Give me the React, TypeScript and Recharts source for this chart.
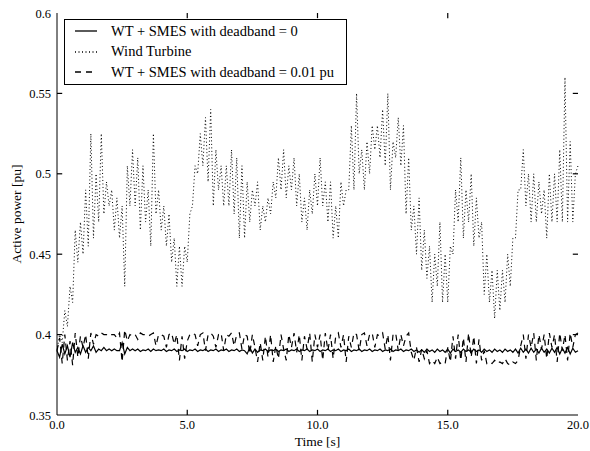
import { LineChart, Line, XAxis, YAxis, Legend, ReferenceLine } from 'recharts';

// Time axis: 0 to 20 s at 0.1 s steps (201 samples)
const timeTicks = [0, 5, 10, 15, 20];
const powerTicks = [0.35, 0.4, 0.45, 0.5, 0.55, 0.6];

// Wind turbine output (fast oscillation around a slow mean)
const windTurbine = [
  0.390, 0.400, 0.395, 0.415, 0.405, 0.430, 0.420, 0.465, 0.445, 0.470,
  0.450, 0.490, 0.455, 0.525, 0.460, 0.500, 0.470, 0.525, 0.475, 0.495,
  0.480, 0.490, 0.465, 0.485, 0.460, 0.480, 0.430, 0.505, 0.480, 0.515,
  0.480, 0.510, 0.465, 0.505, 0.470, 0.490, 0.455, 0.525, 0.475, 0.490,
  0.465, 0.480, 0.455, 0.475, 0.445, 0.460, 0.430, 0.455, 0.430, 0.455,
  0.445, 0.475, 0.480, 0.505, 0.500, 0.525, 0.505, 0.535, 0.495, 0.540,
  0.480, 0.515, 0.490, 0.505, 0.480, 0.505, 0.480, 0.515, 0.475, 0.510,
  0.460, 0.505, 0.460, 0.495, 0.470, 0.490, 0.480, 0.495, 0.465, 0.480,
  0.470, 0.485, 0.475, 0.495, 0.485, 0.510, 0.490, 0.515, 0.485, 0.505,
  0.490, 0.510, 0.480, 0.500, 0.470, 0.485, 0.465, 0.490, 0.475, 0.500,
  0.480, 0.510, 0.480, 0.495, 0.470, 0.495, 0.460, 0.480, 0.460, 0.495,
  0.480, 0.490, 0.490, 0.530, 0.490, 0.550, 0.500, 0.515, 0.490, 0.520,
  0.500, 0.530, 0.515, 0.530, 0.510, 0.540, 0.505, 0.550, 0.490, 0.520,
  0.510, 0.535, 0.505, 0.530, 0.475, 0.510, 0.465, 0.480, 0.450, 0.485,
  0.440, 0.465, 0.435, 0.455, 0.420, 0.450, 0.430, 0.470, 0.420, 0.450,
  0.420, 0.455, 0.450, 0.490, 0.470, 0.510, 0.460, 0.490, 0.470, 0.500,
  0.455, 0.485, 0.460, 0.470, 0.425, 0.450, 0.420, 0.440, 0.410, 0.440,
  0.415, 0.440, 0.420, 0.450, 0.430, 0.460, 0.460, 0.490, 0.490, 0.515,
  0.480, 0.500, 0.470, 0.500, 0.470, 0.495, 0.475, 0.490, 0.460, 0.500,
  0.470, 0.500, 0.470, 0.515, 0.470, 0.560, 0.470, 0.520, 0.470, 0.500,
  0.505,
];

// WT + SMES, deadband = 0
const smesNoDeadband = [
  0.390, 0.386, 0.394, 0.388, 0.393, 0.386, 0.395, 0.389, 0.392, 0.388,
  0.393, 0.389, 0.392, 0.390, 0.393, 0.389, 0.391, 0.390, 0.392, 0.390,
  0.391, 0.390, 0.391, 0.390, 0.390, 0.395, 0.388, 0.392, 0.390, 0.391,
  0.390, 0.391, 0.3895, 0.3905, 0.390, 0.391, 0.3895, 0.391, 0.390, 0.3905,
  0.390, 0.391, 0.3895, 0.3905, 0.390, 0.391, 0.3895, 0.3905, 0.390, 0.391,
  0.3895, 0.3905, 0.390, 0.391, 0.3895, 0.3905, 0.390, 0.391, 0.3895, 0.3905,
  0.390, 0.391, 0.3895, 0.3905, 0.390, 0.391, 0.3895, 0.3905, 0.390, 0.391,
  0.3895, 0.3905, 0.390, 0.388, 0.392, 0.3885, 0.391, 0.389, 0.3905, 0.390,
  0.391, 0.3895, 0.3905, 0.390, 0.391, 0.3895, 0.3905, 0.390, 0.391, 0.3895,
  0.3905, 0.390, 0.391, 0.3895, 0.3905, 0.390, 0.391, 0.3895, 0.3905, 0.390,
  0.391, 0.3895, 0.3905, 0.390, 0.391, 0.3895, 0.3905, 0.390, 0.391, 0.3895,
  0.3905, 0.390, 0.391, 0.3895, 0.3905, 0.390, 0.391, 0.3895, 0.3905, 0.390,
  0.391, 0.3895, 0.3905, 0.390, 0.391, 0.3895, 0.3905, 0.390, 0.391, 0.3895,
  0.3905, 0.390, 0.391, 0.3895, 0.3905, 0.390, 0.391, 0.3895, 0.3905, 0.389,
  0.3905, 0.389, 0.391, 0.3895, 0.3905, 0.389, 0.391, 0.3895, 0.3905, 0.389,
  0.391, 0.3885, 0.391, 0.3895, 0.3905, 0.389, 0.391, 0.3895, 0.3905, 0.389,
  0.391, 0.3895, 0.3905, 0.389, 0.391, 0.3895, 0.3905, 0.389, 0.391, 0.3895,
  0.3905, 0.389, 0.391, 0.3895, 0.3905, 0.389, 0.391, 0.3885, 0.3915, 0.389,
  0.391, 0.3885, 0.3915, 0.389, 0.391, 0.3885, 0.3915, 0.389, 0.391, 0.3885,
  0.3915, 0.389, 0.392, 0.388, 0.3915, 0.3885, 0.392, 0.388, 0.3915, 0.389,
  0.390,
];

// WT + SMES, deadband = 0.01 pu
const smesDeadband = [
  0.390, 0.398, 0.382, 0.400, 0.384, 0.396, 0.381, 0.401, 0.386, 0.399,
  0.392, 0.400, 0.385, 0.401, 0.394, 0.400, 0.399, 0.401, 0.400, 0.400,
  0.399, 0.400, 0.400, 0.398, 0.401, 0.383, 0.403, 0.396, 0.400, 0.399,
  0.400, 0.397, 0.401, 0.400, 0.400, 0.399, 0.400, 0.401, 0.393, 0.400,
  0.400, 0.399, 0.392, 0.400, 0.401, 0.394, 0.400, 0.384, 0.399, 0.385,
  0.396, 0.400, 0.401, 0.400, 0.393, 0.400, 0.401, 0.390, 0.400, 0.401,
  0.399, 0.392, 0.400, 0.401, 0.390, 0.400, 0.399, 0.401, 0.393, 0.400,
  0.401, 0.391, 0.400, 0.399, 0.388, 0.400, 0.392, 0.383, 0.395, 0.384,
  0.399, 0.386, 0.400, 0.383, 0.393, 0.385, 0.400, 0.391, 0.384, 0.400,
  0.392, 0.401, 0.389, 0.400, 0.384, 0.399, 0.391, 0.401, 0.383, 0.400,
  0.392, 0.400, 0.384, 0.401, 0.390, 0.400, 0.385, 0.399, 0.401, 0.392,
  0.400, 0.383, 0.399, 0.392, 0.401, 0.400, 0.390, 0.400, 0.401, 0.393,
  0.400, 0.401, 0.392, 0.400, 0.399, 0.401, 0.391, 0.400, 0.384, 0.400,
  0.401, 0.390, 0.400, 0.393, 0.399, 0.401, 0.389, 0.384, 0.392, 0.383,
  0.391, 0.385, 0.390, 0.382, 0.384, 0.382, 0.386, 0.382, 0.383, 0.382,
  0.392, 0.383, 0.399, 0.385, 0.400, 0.384, 0.398, 0.383, 0.401, 0.386,
  0.399, 0.382, 0.397, 0.384, 0.390, 0.382, 0.383, 0.382, 0.384, 0.382,
  0.383, 0.382, 0.385, 0.382, 0.381, 0.383, 0.382, 0.384, 0.393, 0.400,
  0.385, 0.400, 0.392, 0.401, 0.384, 0.400, 0.391, 0.400, 0.385, 0.401,
  0.392, 0.400, 0.383, 0.401, 0.390, 0.400, 0.384, 0.401, 0.392, 0.400,
  0.401,
];

const data = windTurbine.map((wt, i) => ({
  t: i / 10,
  wt,
  db0: smesNoDeadband[i],
  db1: smesDeadband[i],
}));

const FONT = "'Liberation Serif', 'DejaVu Serif', 'Times New Roman', serif";

// Inward tick length, in data units (about 5 px each way)
const X_MIN = 0, X_MAX = 20, Y_MIN = 0.35, Y_MAX = 0.6;
const TICK_DX = 0.2;
const TICK_DY = 0.0032;

const series = [
  { key: 'db0', name: 'WT + SMES with deadband = 0', dash: undefined },
  { key: 'wt', name: 'Wind Turbine', dash: '1 2.5' },
  { key: 'db1', name: 'WT + SMES with deadband = 0.01 pu', dash: '6 5' },
];

function BottomTick({ x, y, payload }: any) {
  return (
    <text x={x} y={y + 4} textAnchor="middle" fontSize={12.5} style={{ fontFamily: FONT }} fill="#000">
      {Number(payload.value).toFixed(1)}
    </text>
  );
}

function LeftTick({ x, y, payload }: any) {
  return (
    <text x={x + 5} y={y + 4.5} textAnchor="end" fontSize={12.5} style={{ fontFamily: FONT }} fill="#000">
      {String(payload.value)}
    </text>
  );
}

function XLabel({ viewBox }: any) {
  const { x, y, width } = viewBox;
  return (
    <text x={x + width / 2} y={y + 31} textAnchor="middle" fontSize={13.5} style={{ fontFamily: FONT }} fill="#000">
      Time [s]
    </text>
  );
}

function YLabel({ viewBox }: any) {
  const { x, y, height } = viewBox;
  const cx = x + 18;
  const cy = y + height / 2;
  return (
    <text
      x={cx}
      y={cy}
      transform={`rotate(-90 ${cx} ${cy})`}
      textAnchor="middle"
      dominantBaseline="middle"
      fontSize={13.5}
      style={{ fontFamily: FONT }}
      fill="#000"
    >
      Active power [pu]
    </text>
  );
}

function LegendBox() {
  return (
    <div
      style={{
        width: 281,
        border: '1px solid #000',
        background: '#fff',
        padding: '1px 0',
        fontFamily: FONT,
        fontSize: 14.5,
        color: '#000',
      }}
    >
      {series.map((s) => (
        <div key={s.key} style={{ display: 'flex', alignItems: 'center', height: 20.5 }}>
          <svg width={46} height={20} style={{ flexShrink: 0 }}>
            <line x1={10} x2={32} y1={10} y2={10} stroke="#000" strokeWidth={1.3} strokeDasharray={s.dash} />
          </svg>
          <span style={{ whiteSpace: 'nowrap' }}>{s.name}</span>
        </div>
      ))}
    </div>
  );
}

export default function App() {
  const innerX = timeTicks.filter((v) => v > X_MIN && v < X_MAX);
  const innerY = powerTicks.filter((v) => v > Y_MIN && v < Y_MAX);
  return (
    <div style={{ position: 'absolute', left: 0, top: 0, background: '#fff', fontFamily: FONT }}>
      <LineChart width={590} height={451} data={data} margin={{ top: 13, right: 12, bottom: 0, left: 0 }}>
        <XAxis
          xAxisId="bottom"
          dataKey="t"
          type="number"
          domain={[X_MIN, X_MAX]}
          ticks={timeTicks}
          height={36}
          stroke="#000"
          tickLine={false}
          tickMargin={4}
          tick={<BottomTick />}
          label={<XLabel />}
        />
        <XAxis
          xAxisId="top"
          orientation="top"
          dataKey="t"
          type="number"
          domain={[X_MIN, X_MAX]}
          ticks={timeTicks}
          height={0}
          stroke="#000"
          tickLine={false}
          tick={false}
        />
        <YAxis
          yAxisId="left"
          type="number"
          domain={[Y_MIN, Y_MAX]}
          ticks={powerTicks}
          width={57}
          stroke="#000"
          tickLine={false}
          tickMargin={5}
          tick={<LeftTick />}
          label={<YLabel />}
        />
        <YAxis
          yAxisId="right"
          orientation="right"
          type="number"
          domain={[Y_MIN, Y_MAX]}
          ticks={powerTicks}
          width={0}
          stroke="#000"
          tickLine={false}
          tick={false}
        />
        {innerX.map((v) => (
          <ReferenceLine
            key={`xb${v}`}
            xAxisId="bottom"
            yAxisId="left"
            segment={[{ x: v, y: Y_MIN }, { x: v, y: Y_MIN + TICK_DY }]}
            stroke="#000"
            strokeWidth={1.2}
          />
        ))}
        {innerX.map((v) => (
          <ReferenceLine
            key={`xt${v}`}
            xAxisId="bottom"
            yAxisId="left"
            segment={[{ x: v, y: Y_MAX }, { x: v, y: Y_MAX - TICK_DY }]}
            stroke="#000"
            strokeWidth={1.2}
          />
        ))}
        {innerY.map((v) => (
          <ReferenceLine
            key={`yl${v}`}
            xAxisId="bottom"
            yAxisId="left"
            segment={[{ x: X_MIN, y: v }, { x: X_MIN + TICK_DX, y: v }]}
            stroke="#000"
            strokeWidth={1.2}
          />
        ))}
        {innerY.map((v) => (
          <ReferenceLine
            key={`yr${v}`}
            xAxisId="bottom"
            yAxisId="left"
            segment={[{ x: X_MAX - TICK_DX, y: v }, { x: X_MAX, y: v }]}
            stroke="#000"
            strokeWidth={1.2}
          />
        ))}
        <Legend
          layout="horizontal"
          align="center"
          verticalAlign="middle"
          content={<LegendBox />}
          wrapperStyle={{ left: 64, top: 19, width: 'auto' }}
        />
        {series.map((s) => (
          <Line
            key={s.key}
            xAxisId="bottom"
            yAxisId="left"
            dataKey={s.key}
            name={s.name}
            type="linear"
            stroke="#000"
            strokeWidth={s.key === 'wt' ? 1 : 1.2}
            strokeDasharray={s.dash}
            dot={false}
            isAnimationActive={false}
          />
        ))}
      </LineChart>
    </div>
  );
}
